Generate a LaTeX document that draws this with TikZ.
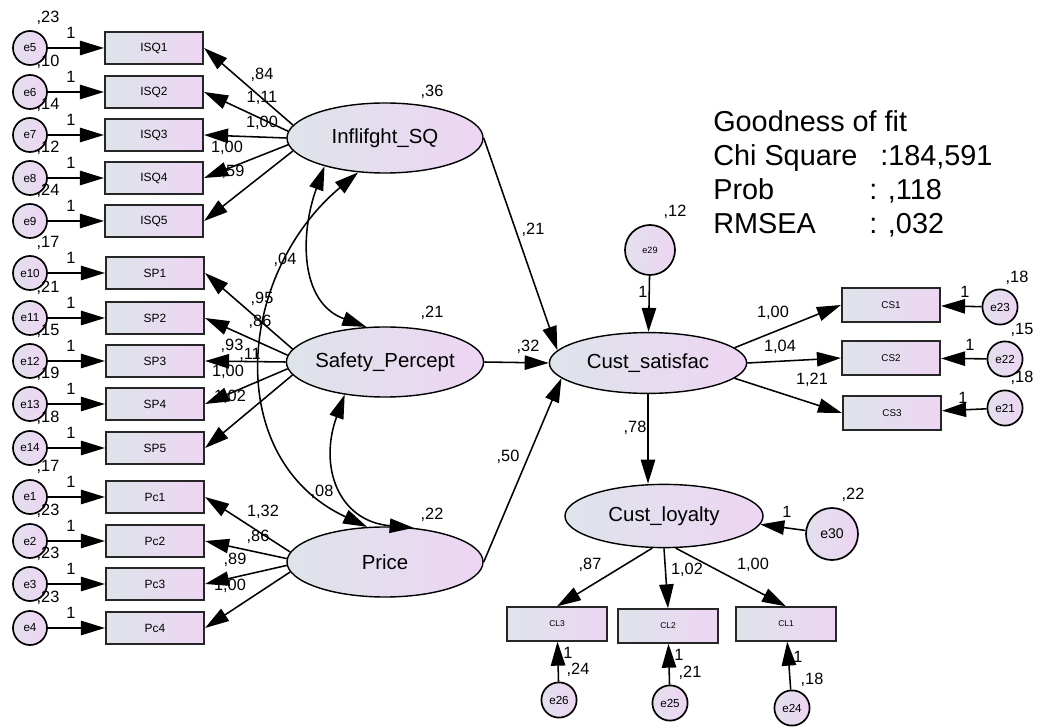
\documentclass[tikz,border=0pt]{standalone}
\usepackage{fontspec}
\setmainfont{Liberation Sans}
\usetikzlibrary{arrows.meta,shapes.geometric}
\definecolor{amosl}{RGB}{222,228,234}
\definecolor{amosr}{RGB}{237,213,243}

\begin{document}
\begin{tikzpicture}[x=0.025cm,y=-0.025cm,>={Triangle[length=6mm,width=3.6mm]},
  obs/.style={rectangle,draw=black!85,line width=1.5pt,minimum width=2.45cm,minimum height=0.78cm,
    inner sep=0pt,left color=amosl,right color=amosr,font=\fontsize{8.5}{9}\selectfont},
  lat/.style={ellipse,draw,line width=1pt,minimum width=4.9cm,minimum height=1.75cm,
    inner sep=0pt,left color=amosl,right color=amosr,font=\fontsize{14.5}{15}\selectfont},
  err/.style={circle,draw,line width=1.2pt,minimum size=0.85cm,inner sep=0pt,
    left color=amosl!70!amosr,right color=amosr,font=\fontsize{8.3}{9}\selectfont},
  num/.style={inner sep=0pt,font=\fontsize{11.6}{12}\selectfont},
  gof/.style={inner sep=0pt,anchor=base west,font=\fontsize{20.5}{21}\selectfont},
  path/.style={->,line width=1.1pt}]

\fill[white] (0,0) rectangle (1040,727);
\useasboundingbox (0,0) rectangle (1040,727);

% Inflifght_SQ
\node[err] (e5) at (30,48) {e5};
\node[err] (e6) at (30,92) {e6};
\node[err] (e7) at (30,135) {e7};
\node[err] (e8) at (30,178) {e8};
\node[err] (e9) at (30,221) {e9};
\node[obs] (isq1) at (154,48) {ISQ1};
\node[obs] (isq2) at (154,92) {ISQ2};
\node[obs] (isq3) at (154,135) {ISQ3};
\node[obs] (isq4) at (154,178) {ISQ4};
\node[obs] (isq5) at (154,221) {ISQ5};

% Safety_Percept
\node[err] (e10) at (30,273) {e10};
\node[err] (e11) at (30,318) {e11};
\node[err] (e12) at (30,361) {e12};
\node[err] (e13) at (30,404) {e13};
\node[err] (e14) at (30,448) {e14};
\node[obs] (sp1) at (155,273) {SP1};
\node[obs] (sp2) at (155,318) {SP2};
\node[obs] (sp3) at (155,361) {SP3};
\node[obs] (sp4) at (155,404) {SP4};
\node[obs] (sp5) at (155,448) {SP5};

% Price
\node[err] (e1) at (30,497) {e1};
\node[err] (e2) at (30,541) {e2};
\node[err] (e3) at (30,584) {e3};
\node[err] (e4) at (30,628) {e4};
\node[obs] (pc1) at (155,497) {Pc1};
\node[obs] (pc2) at (155,541) {Pc2};
\node[obs] (pc3) at (155,584) {Pc3};
\node[obs] (pc4) at (155,628) {Pc4};

\foreach \e/\b in {e5/isq1,e6/isq2,e7/isq3,e8/isq4,e9/isq5,e10/sp1,e11/sp2,e12/sp3,e13/sp4,e14/sp5,e1/pc1,e2/pc2,e3/pc3,e4/pc4}
  \draw[path] (\e) -- (\b);

\node[lat] (inf) at (385,138) {Inflifght\_SQ};
\node[lat] (saf) at (385,362) {Safety\_Percept};
\node[lat] (pri) at (385,562) {Price};
\node[lat,minimum width=4.93cm,minimum height=1.52cm] (sat) at (648,363) {Cust\_satisfac};
\node[lat,minimum width=4.95cm,minimum height=1.58cm] (loy) at (664,516) {Cust\_loyalty};

\draw[path] (inf.172) -- (isq1.east);
\draw[path] (inf.176) -- (isq2.east);
\draw[path] (inf.180) -- (isq3.east);
\draw[path] (inf.184) -- (isq4.east);
\draw[path] (inf.188) -- (isq5.east);
\draw[path] (saf.172) -- (sp1.east);
\draw[path] (saf.176) -- (sp2.east);
\draw[path] (saf.180) -- (sp3.east);
\draw[path] (saf.184) -- (sp4.east);
\draw[path] (saf.188) -- (sp5.east);
\draw[path] (pri.174) -- (pc1.east);
\draw[path] (pri.178) -- (pc2.east);
\draw[path] (pri.182) -- (pc3.east);
\draw[path] (pri.186) -- (pc4.east);

% covariances
\draw[<->,line width=1.1pt] (inf.205) to[out=250,in=160,looseness=1.1] (saf.118);
\draw[<->,line width=1.1pt] (inf.232) to[out=220,in=155,looseness=1.15] (pri.117);
\draw[<->,line width=1.1pt] (saf.219) to[out=250,in=175,looseness=1.3] (pri.50);

% structural part
\node[err,minimum size=1.25cm,font=\fontsize{6.5}{7}\selectfont] (e29) at (650,250) {e29};
\node[err,minimum size=1.3cm,font=\fontsize{10}{11}\selectfont] (e30) at (832,534) {e30};
\draw[path] (inf.east) -- (sat.172);
\draw[path] (saf.east) -- (sat.west);
\draw[path] (pri.east) -- (sat.190);
\draw[path] (e29) -- (sat);
\draw[path] (sat.south) -- (loy.north -| sat.south);
\draw[path] (e30) -- (loy.355);

% Cust_satisfac indicators
\node[obs,minimum height=0.83cm,font=\fontsize{7}{8}\selectfont] (cs1) at (891,305) {CS1};
\node[obs,minimum height=0.83cm,font=\fontsize{7}{8}\selectfont] (cs2) at (891,358) {CS2};
\node[obs,minimum height=0.83cm,font=\fontsize{7}{8}\selectfont] (cs3) at (892,413) {CS3};
\node[err,minimum size=0.88cm] (e23) at (1000,307) {e23};
\node[err,minimum size=0.88cm] (e22) at (1005,359) {e22};
\node[err,minimum size=0.88cm] (e21) at (1005,408) {e21};
\draw[path] (sat.10) -- (cs1.west);
\draw[path] (sat.east) -- (cs2.west);
\draw[path] (sat.-10) -- (cs3.west);
\draw[path] (e23) -- (cs1);
\draw[path] (e22) -- (cs2);
\draw[path] (e21) -- (cs3);

% Cust_loyalty indicators
\node[obs,minimum width=2.48cm,minimum height=0.83cm,font=\fontsize{6}{7}\selectfont] (cl3) at (557,624) {CL3};
\node[obs,minimum width=2.48cm,minimum height=0.83cm,font=\fontsize{6}{7}\selectfont] (cl2) at (668,626) {CL2};
\node[obs,minimum width=2.48cm,minimum height=0.83cm,font=\fontsize{6}{7}\selectfont] (cl1) at (786,624) {CL1};
\node[err,minimum size=0.88cm] (e26) at (559,700) {e26};
\node[err,minimum size=0.88cm] (e25) at (670,703) {e25};
\node[err,minimum size=0.88cm] (e24) at (792,708) {e24};
\draw[path] (loy.250) -- (cl3.north);
\draw[path] (loy.south) -- (cl2.north);
\draw[path] (loy.290) -- (cl1.north);
\draw[path] (e26) -- (cl3);
\draw[path] (e25) -- (cl2);
\draw[path] (e24) -- (cl1);

% estimates, left
\node[num] (v5) at (48,18) {,23};
\node[num] (v6) at (48,62) {,10};
\node[num] (v7) at (48,105) {,14};
\node[num] (v8) at (48,148) {,12};
\node[num] (v9) at (48,191) {,24};
\node[num] (v10) at (48,243) {,17};
\node[num] (v11) at (48,288) {,21};
\node[num] (v12) at (48,331) {,15};
\node[num] (v13) at (48,374) {,19};
\node[num] (v14) at (48,418) {,18};
\node[num] (v1) at (48,467) {,17};
\node[num] (v2) at (48,511) {,23};
\node[num] (v3) at (48,554) {,23};
\node[num] (v4) at (48,598) {,23};
\foreach \y [count=\i] in {48,92,135,178,221,273,318,361,404,448,497,541,584,628}
  \node[num] (w\i) at (71,\y-15) {1};

\node[num] (l1) at (262,75) {,84};
\node[num] (l2) at (262,98) {1,11};
\node[num] (l3) at (262,123) {1,00};
\node[num] (l4) at (227,148) {1,00};
\node[num] (l5) at (233,172) {,59};
\node[num] (l6) at (262,299) {,95};
\node[num] (l7) at (260,322) {,86};
\node[num] (l8) at (232,346) {,93};
\node[num] (l9) at (228,372) {1,00};
\node[num] (l10) at (230,397) {1,02};
\node[num] (l11) at (263,512) {1,32};
\node[num] (l12) at (258,537) {,86};
\node[num] (l13) at (235,560) {,89};
\node[num] (l14) at (230,586) {1,00};

\node[num] (c1) at (285,260) {,04};
\node[num] (c2) at (250,355) {,11};
\node[num] (c3) at (322,492) {,08};

% estimates, latent part
\node[num] (r1) at (432,92) {,36};
\node[num] (r2) at (432,313) {,21};
\node[num] (r3) at (432,515) {,22};
\node[num] (s1) at (533,230) {,21};
\node[num] (s2) at (528,347) {,32};
\node[num] (s3) at (508,457) {,50};
\node[num] (s4) at (635,428) {,78};
\node[num] (r4) at (675,212) {,12};
\node[num] (r5) at (643,292) {1};
\node[num] (r6) at (853,495) {,22};
\node[num] (r7) at (787,512) {1};

\node[num] (t1) at (773,313) {1,00};
\node[num] (t2) at (780,347) {1,04};
\node[num] (t3) at (812,380) {1,21};
\node[num] (t4) at (965,292) {1};
\node[num] (t5) at (970,345) {1};
\node[num] (t6) at (963,398) {1};
\node[num] (t7) at (1017,278) {,18};
\node[num] (t8) at (1022,330) {,15};
\node[num] (t9) at (1022,378) {,18};

\node[num] (u1) at (590,565) {,87};
\node[num] (u2) at (687,570) {1,02};
\node[num] (u3) at (753,565) {1,00};
\node[num] (u4) at (568,653) {1};
\node[num] (u5) at (679,655) {1};
\node[num] (u6) at (798,657) {1};
\node[num] (u7) at (578,670) {,24};
\node[num] (u8) at (690,673) {,21};
\node[num] (u9) at (812,680) {,18};

% Goodness of fit
\node[gof] (g1) at (713,132) {Goodness of fit};
\node[gof] (g2) at (713,166) {Chi Square};
\node[gof] (g3) at (713,199.5) {Prob};
\node[gof] (g4) at (713,233.5) {RMSEA};
\node[gof] (g5) at (880,166) {:184,591};
\node[gof] (g6) at (869,199.5) {: ,118};
\node[gof] (g7) at (869,233.5) {: ,032};
\end{tikzpicture}
\end{document}
